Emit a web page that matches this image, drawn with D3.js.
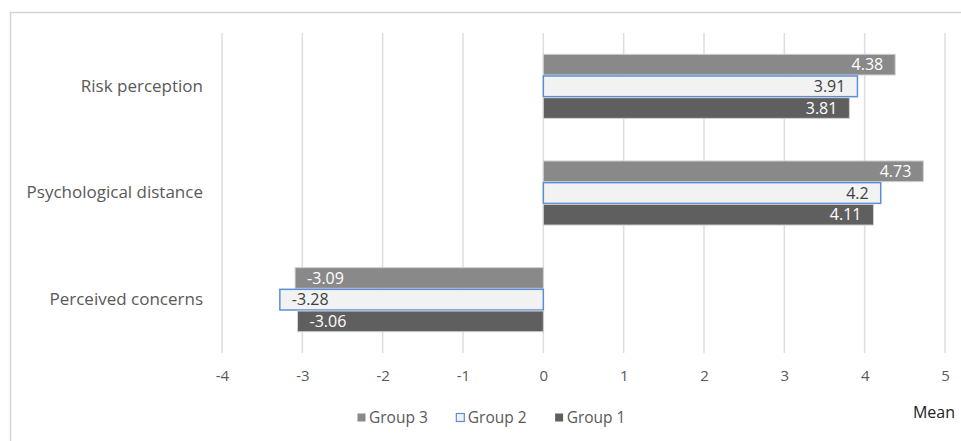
<!DOCTYPE html>
<html>
<head>
<meta charset="utf-8">
<script src="https://cdn.jsdelivr.net/npm/d3@7"></script>
<style>
  body { margin: 0; background: #fff; }
  text { font-family: "Open Sans", "Noto Sans", sans-serif; }
</style>
</head>
<body>
<div id="chart"></div>
<script>
var categories = ["Risk perception", "Psychological distance", "Perceived concerns"];
var seriesNames = ["Group 3", "Group 2", "Group 1"];
var group3 = [4.38, 4.73, -3.09];
var group2 = [3.91, 4.2, -3.28];
var group1 = [3.81, 4.11, -3.06];
var xTicks = [-4, -3, -2, -1, 0, 1, 2, 3, 4, 5];

var W = 961, H = 441;
var svg = d3.select('#chart').append('svg')
  .attr('width', W).attr('height', H);

svg.append('rect').attr('width', W).attr('height', H).attr('fill', '#fff');
// chart frame, runs off the right and bottom edges
svg.append('rect')
  .attr('x', 10.5).attr('y', 12.5)
  .attr('width', 980).attr('height', 460)
  .attr('fill', 'none').attr('stroke', '#d4d4d4').attr('stroke-width', 1.5);

var x = d3.scaleLinear().domain([-4, 5]).range([222, 945]);
var y0 = d3.scaleBand().domain(categories).range([33, 353])
  .paddingInner(0.39).paddingOuter(0.195);
var y1 = d3.scaleBand().domain(seriesNames).range([0, y0.bandwidth()]);

var styles = {
  'Group 3': {fill: '#898989', stroke: '#d0d0d0', sw: 1, label: '#fff'},
  'Group 2': {fill: '#f2f2f2', stroke: '#5a8fd8', sw: 1.5, label: '#404040'},
  'Group 1': {fill: '#5f5f5f', stroke: '#d0d0d0', sw: 1, label: '#fff'}
};
var values = {'Group 3': group3, 'Group 2': group2, 'Group 1': group1};

// gridlines
svg.append('g').selectAll('line').data(xTicks).join('line')
  .attr('x1', function(d){ return x(d); }).attr('x2', function(d){ return x(d); })
  .attr('y1', 33).attr('y2', 353)
  .attr('stroke', '#dedede').attr('stroke-width', 1.5);

// x axis labels
var xAxis = d3.axisBottom(x).tickValues(xTicks).tickSize(0).tickPadding(0)
  .tickFormat(function(d){ return d < 0 ? '-' + Math.abs(d) : d; });
var gx = svg.append('g').attr('transform', 'translate(0,370)').call(xAxis);
gx.select('.domain').remove();
gx.selectAll('text').attr('font-size', 15).attr('fill', '#595959')
  .style('font-family', '"Open Sans", sans-serif');

// category labels
var yAxis = d3.axisLeft(y0).tickSize(0).tickPadding(0);
var gy = svg.append('g').attr('transform', 'translate(203,0)').call(yAxis);
gy.select('.domain').remove();
gy.selectAll('text').attr('font-size', 17).attr('fill', '#595959')
  .style('font-family', '"Open Sans", sans-serif');

// bars
var rows = [];
categories.forEach(function(c, i){
  seriesNames.forEach(function(s){
    rows.push({cat: c, series: s, value: values[s][i]});
  });
});

var bars = svg.append('g').selectAll('g').data(rows).join('g')
  .attr('transform', function(d){ return 'translate(0,' + (y0(d.cat) + y1(d.series)) + ')'; });

bars.append('rect')
  .attr('x', function(d){ return Math.min(x(0), x(d.value)); })
  .attr('width', function(d){ return Math.abs(x(d.value) - x(0)); })
  .attr('y', 0.5)
  .attr('height', y1.bandwidth() - 1)
  .attr('fill', function(d){ return styles[d.series].fill; })
  .attr('stroke', function(d){ return styles[d.series].stroke; })
  .attr('stroke-width', function(d){ return styles[d.series].sw; });

bars.append('text')
  .attr('x', function(d){ return d.value >= 0 ? x(d.value) - 12 : x(d.value) + 12; })
  .attr('y', y1.bandwidth() / 2)
  .attr('dy', '0.35em')
  .attr('text-anchor', function(d){ return d.value >= 0 ? 'end' : 'start'; })
  .attr('font-size', 16)
  .attr('fill', function(d){ return styles[d.series].label; })
  .text(function(d){ return String(d.value); });

// legend
var legend = svg.append('g').attr('transform', 'translate(357,418)');
var lx = 0;
seriesNames.forEach(function(s){
  var g = legend.append('g').attr('transform', 'translate(' + lx + ',0)');
  g.append('rect').attr('x', 0.5).attr('y', -4.5).attr('width', 8).attr('height', 8)
    .attr('fill', styles[s].fill)
    .attr('stroke', s === 'Group 2' ? styles[s].stroke : 'none')
    .attr('stroke-width', 1.2);
  var t = g.append('text').attr('x', 12).attr('dy', '0.35em')
    .attr('font-size', 15.5).attr('fill', '#595959').text(s);
  lx += 12 + t.node().getComputedTextLength() + 28;
});

// axis title
svg.append('text').attr('x', 955).attr('y', 412).attr('dy', '0.35em')
  .attr('text-anchor', 'end').attr('font-size', 16).attr('fill', '#222')
  .text('Mean');
</script>
</body>
</html>
